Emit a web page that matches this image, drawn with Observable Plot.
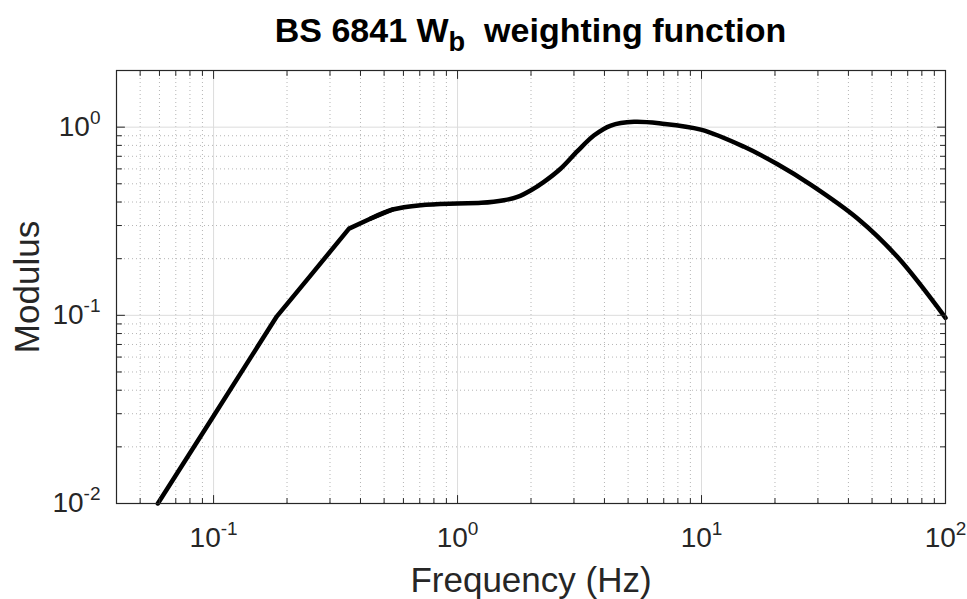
<!DOCTYPE html>
<html><head><meta charset="utf-8">
<script src="https://cdn.jsdelivr.net/npm/d3@7"></script>
<script src="https://cdn.jsdelivr.net/npm/@observablehq/plot@0.6"></script>
<style>
body{margin:0;background:#fff;}
#wrap{position:relative;width:967px;height:599px;font-family:"Liberation Sans",Arial,sans-serif;}
#chart{position:absolute;left:0;top:0;}
#title{position:absolute;left:116px;width:829px;top:13px;text-align:center;font-weight:bold;font-size:34px;line-height:34px;color:#000;white-space:nowrap;}
#title .sub{font-size:0.8em;position:relative;top:9px;}
</style></head><body>
<div id="wrap"><div id="chart"></div><div id="title">BS 6841 W<span class="sub">b</span>&nbsp; weighting function</div></div>
<script>
// Data (frequency in Hz, modulus)
const freq    = [0.0591, 0.1, 0.1817, 0.25, 0.359, 0.441, 0.542, 0.707, 1.0, 1.25, 1.55, 1.76, 2.0, 2.26, 2.65, 3.10, 3.63, 4.25, 5.29, 6.81, 9.93, 14.95, 20.5, 28.0, 43.6, 63.6, 100];
const modulus = [0.0100, 0.0292, 0.0988, 0.163, 0.289, 0.327, 0.365, 0.385, 0.393, 0.396, 0.409, 0.426, 0.462, 0.512, 0.603, 0.745, 0.905, 1.020, 1.067, 1.046, 0.970, 0.786, 0.635, 0.495, 0.327, 0.204, 0.097];
const xTicks = [0.1, 1, 10, 100];
const yTicks = [0.01, 0.1, 1];
const xDomain = [0.04, 100];
const yDomain = [0.01, 2];
const xLabel = "Frequency (Hz)";
const yLabel = "Modulus";

const minorTicks = (dom) => {
  const out = [];
  for (let e = -3; e <= 3; e++) for (let k = 2; k <= 9; k++) {
    const v = k * Math.pow(10, e);
    if (v >= dom[0] * 0.999 && v <= dom[1] * 1.001) out.push(+v.toPrecision(3));
  }
  return out;
};
const xMinor = minorTicks(xDomain);
const yMinor = minorTicks(yDomain);

const data = freq.map((f, i) => ({f, m: modulus[i]}));
const fmt = d => "10^" + Math.round(Math.log10(d));

const upShape = {draw(ctx, l) { ctx.moveTo(0, 0); ctx.lineTo(0, -l); }};
const tickStyle = {stroke: "#262626", strokeWidth: 1, anchor: "start", shape: upShape};
const ticksFor = (xs, ys, len) => [
  Plot.vectorX(xs, {...tickStyle, frameAnchor: "bottom", rotate: 0, length: len}),
  Plot.vectorX(xs, {...tickStyle, frameAnchor: "top", rotate: 180, length: len}),
  Plot.vectorY(ys, {...tickStyle, frameAnchor: "left", rotate: 90, length: len}),
  Plot.vectorY(ys, {...tickStyle, frameAnchor: "right", rotate: 270, length: len})
];

const chart = Plot.plot({
  width: 967, height: 599,
  marginLeft: 116, marginRight: 22, marginTop: 70, marginBottom: 96,
  style: {fontFamily: '"Liberation Sans", Arial, sans-serif', color: "#262626", background: "#fff"},
  x: {type: "log", domain: xDomain},
  y: {type: "log", domain: yDomain},
  marks: [
    Plot.gridX(xMinor, {stroke: "#b5b5b5", strokeOpacity: 1, strokeDasharray: "1,3"}),
    Plot.gridY(yMinor, {stroke: "#b5b5b5", strokeOpacity: 1, strokeDasharray: "1,3"}),
    Plot.gridX(xTicks, {stroke: "#dcdcdc", strokeOpacity: 1}),
    Plot.gridY(yTicks, {stroke: "#dcdcdc", strokeOpacity: 1}),
    Plot.line(data.filter(d => d.f <= 0.542), {x: "f", y: "m", stroke: "#000", strokeWidth: 4.5, curve: "linear"}),
    Plot.line(data.filter(d => d.f >= 0.441), {x: "f", y: "m", stroke: "#000", strokeWidth: 4.5, curve: "catmull-rom"}),
    ...ticksFor(xMinor, yMinor, 5),
    ...ticksFor(xTicks, yTicks, 8),
    Plot.frame({stroke: "#262626", strokeWidth: 1.2}),
    Plot.axisX({ticks: xTicks, tickSize: 0, tickPadding: 24, fontSize: 28, tickFormat: fmt, label: null}),
    Plot.axisY({ticks: yTicks, tickSize: 0, tickPadding: 16, fontSize: 28, tickFormat: fmt, label: null}),
    Plot.text([xLabel], {frameAnchor: "bottom", dy: 77, fontSize: 35, fill: "#262626", textAnchor: "middle", lineAnchor: "middle", text: d => d}),
    Plot.text([yLabel], {frameAnchor: "left", dx: -89, rotate: -90, fontSize: 35, fill: "#262626", textAnchor: "middle", lineAnchor: "middle", text: d => d})
  ]
});

// Render exponent as superscript
d3.select(chart).selectAll("text").each(function () {
  const m = /^10\^(-?\d+)$/.exec(this.textContent);
  if (!m) return;
  const walker = document.createTreeWalker(this, NodeFilter.SHOW_TEXT);
  const node = walker.nextNode();
  node.nodeValue = "10";
  const sup = document.createElementNS("http://www.w3.org/2000/svg", "tspan");
  sup.setAttribute("dy", "-12");
  sup.setAttribute("font-size", "19px");
  sup.textContent = m[1];
  node.parentNode.insertBefore(sup, node.nextSibling);
});

document.getElementById("chart").appendChild(chart);
</script>
</body></html>
